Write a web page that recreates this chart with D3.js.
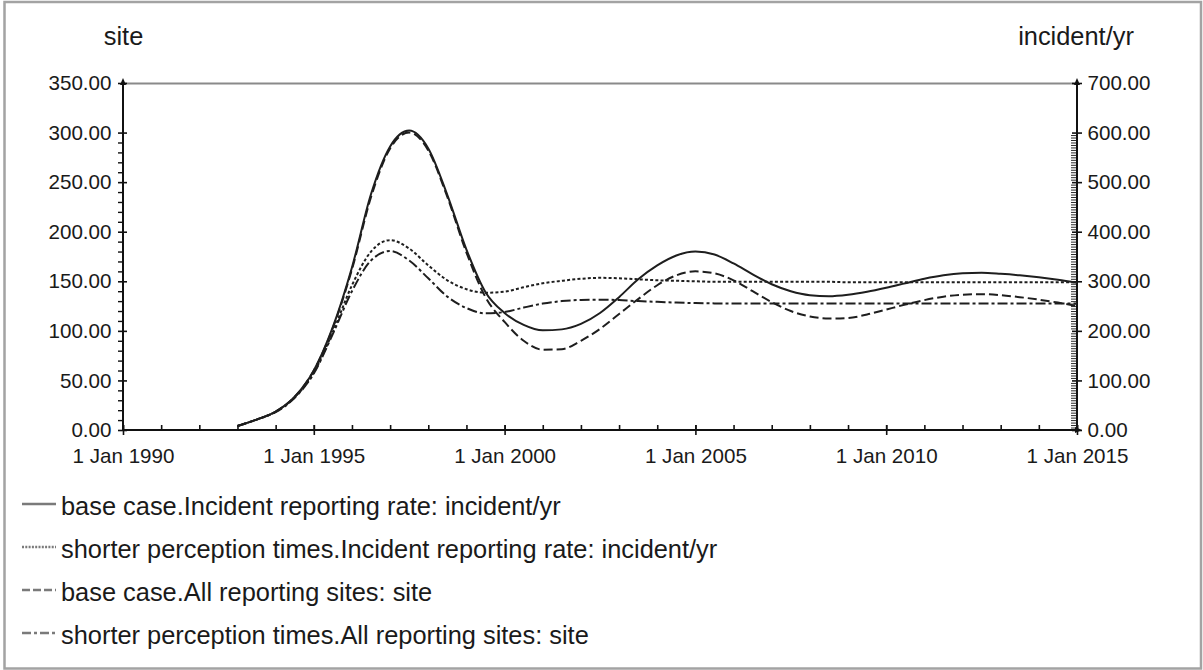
<!DOCTYPE html>
<html>
<head>
<meta charset="utf-8">
<script src="https://cdn.jsdelivr.net/npm/d3@7"></script>
<style>
  html, body { margin: 0; padding: 0; background: #fff; }
  svg { display: block; }
</style>
</head>
<body>
<svg id="chart" width="1203" height="670"></svg>
<script>
// Simulation output, sampled every half year from 1 Jan 1993
const years = [
  1993, 1993.5, 1994, 1994.5, 1995, 1995.5, 1996, 1996.5, 1997, 1997.5,
  1998, 1998.5, 1999, 1999.5, 2000, 2000.5, 2001, 2001.5, 2002, 2002.5,
  2003, 2003.5, 2004, 2004.5, 2005, 2005.5, 2006, 2006.5, 2007, 2007.5,
  2008, 2008.5, 2009, 2009.5, 2010, 2010.5, 2011, 2011.5, 2012, 2012.5,
  2013, 2013.5, 2014, 2014.5, 2015
];

// Incident reporting rate (incident/yr), right axis
const baseRate = [
  8, 21, 37, 67, 120, 208, 328, 476, 572, 604,
  568, 474, 364, 278, 236, 212, 201, 203, 214, 236,
  268, 304, 332, 352, 360, 354, 336, 314, 294, 280,
  272, 270, 273, 279, 287, 296, 305, 312, 316, 317,
  315, 312, 308, 303, 297
];
const shorterRate = [
  8, 21, 37, 66, 116, 198, 292, 360, 383, 366,
  332, 302, 284, 277, 279, 288, 296, 301, 305, 307,
  306, 304, 302, 301, 300, 299, 299, 299, 299, 299,
  299, 299, 298, 298, 298, 298, 298, 298, 298, 298,
  298, 298, 298, 298, 298
];

// All reporting sites (site), left axis
const baseSites = [
  4, 10.5, 18.5, 33.5, 60, 103, 162, 235, 284, 300,
  282, 235, 179, 134, 109, 90, 81, 81.5, 90, 102,
  117, 132, 146, 156, 160, 158, 151, 140, 129, 120,
  114.5, 112.5, 113, 116.5, 121.5, 126.5, 131, 134.5, 136.5, 137,
  136, 134, 131.5, 128.5, 125
];
const shorterSites = [
  4, 10.5, 18, 32.5, 57, 97, 140, 171, 180.5, 171,
  153, 134.5, 123, 117.7, 119, 123.5, 127.5, 130, 131.2, 131.5,
  131, 130, 129.3, 128.5, 128, 127.7, 127.5, 127.5, 127.5, 127.5,
  127.5, 127.5, 127.5, 127.5, 127.5, 127.5, 127.5, 127.5, 127.5, 127.5,
  127.5, 127.5, 127.5, 127.5, 127.5
];

const xTickYears = [1990, 1995, 2000, 2005, 2010, 2015];
const xTickLabels = ["1 Jan 1990", "1 Jan 1995", "1 Jan 2000", "1 Jan 2005", "1 Jan 2010", "1 Jan 2015"];
const siteTicks = [0, 50, 100, 150, 200, 250, 300, 350];
const rateTicks = [0, 100, 200, 300, 400, 500, 600, 700];

const legendLabels = [
  "base case.Incident reporting rate: incident/yr",
  "shorter perception times.Incident reporting rate: incident/yr",
  "base case.All reporting sites: site",
  "shorter perception times.All reporting sites: site"
];

const FONT = "'Liberation Sans', Arial, Helvetica, sans-serif";
const INK = "#1a1a1a";

const svg = d3.select("#chart");

// outer frame
svg.append("rect")
  .attr("x", 4.5).attr("y", 2)
  .attr("width", 1196.5).attr("height", 666.5)
  .attr("fill", "none")
  .attr("stroke", "#a3a3a3")
  .attr("stroke-width", 2.5);

const pLeft = 123, pRight = 1077, pTop = 83, pBottom = 430;

const x = d3.scaleLinear().domain([1990, 2015]).range([pLeft, pRight]);
const ySite = d3.scaleLinear().domain([0, 350]).range([pBottom, pTop]);
const yRate = d3.scaleLinear().domain([0, 700]).range([pBottom, pTop]);

// top frame line of the plot area
svg.append("line")
  .attr("x1", pLeft).attr("x2", pRight)
  .attr("y1", pTop + 0.5).attr("y2", pTop + 0.5)
  .attr("stroke", "#8a8a8a").attr("stroke-width", 2);

function styleAxis(g, width) {
  g.attr("font-family", FONT);
  g.select(".domain").remove();
  g.selectAll("line").attr("stroke", "#111").attr("stroke-width", width || 1.6);
  g.selectAll("text").attr("fill", INK);
}

const fmt = d3.format(".2f");

// ---- left axis (site)
const gLeftMinor = svg.append("g").attr("transform", `translate(${pLeft},0)`)
  .call(d3.axisLeft(ySite)
    .tickValues(d3.range(10, 300, 10).filter(v => v % 50 !== 0))
    .tickSize(5).tickFormat(""));
styleAxis(gLeftMinor, 1.4);

const gLeft = svg.append("g").attr("transform", `translate(${pLeft},0)`)
  .call(d3.axisLeft(ySite).tickValues(siteTicks).tickSize(5).tickPadding(6.5).tickFormat(fmt));
styleAxis(gLeft);
gLeft.attr("font-size", 20.6);
gLeft.selectAll(".tick line").attr("x1", 4);

// ---- right axis (incident/yr)
const gRightMinor = svg.append("g").attr("transform", `translate(${pRight},0)`)
  .call(d3.axisLeft(yRate)
    .tickValues(d3.range(5, 600, 5).filter(v => v % 100 !== 0))
    .tickSize(6).tickFormat(""));
styleAxis(gRightMinor, 0.9);

const gRight = svg.append("g").attr("transform", `translate(${pRight},0)`)
  .call(d3.axisRight(yRate).tickValues(rateTicks).tickSize(5).tickPadding(5.5).tickFormat(fmt));
styleAxis(gRight);
gRight.attr("font-size", 20.6);
gRight.selectAll(".tick line").attr("x1", -5);

// ---- bottom axis (time)
const gXMinor = svg.append("g").attr("transform", `translate(0,${pBottom})`)
  .call(d3.axisTop(x).tickValues(d3.range(1990, 2016, 1)).tickSize(5).tickFormat(""));
styleAxis(gXMinor);

const gX = svg.append("g").attr("transform", `translate(0,${pBottom})`)
  .call(d3.axisBottom(x).tickValues(xTickYears).tickSize(5).tickPadding(13.4)
    .tickFormat((d, i) => xTickLabels[i]));
styleAxis(gX);
gX.attr("font-size", 20.6);
gX.selectAll(".tick line").attr("y1", -5);

// axis lines with arrow heads
const axisPaths = svg.append("g").attr("stroke", "#111").attr("stroke-width", 2).attr("fill", "none");
axisPaths.append("line").attr("x1", pLeft).attr("x2", pLeft).attr("y1", pBottom + 1).attr("y2", pTop - 1);
axisPaths.append("line").attr("x1", pRight).attr("x2", pRight).attr("y1", pBottom + 1).attr("y2", pTop - 1);
axisPaths.append("line").attr("x1", pLeft - 1).attr("x2", pRight + 1).attr("y1", pBottom).attr("y2", pBottom);

const arrows = svg.append("g").attr("fill", "#111");
[pLeft, pRight].forEach(ax => {
  arrows.append("path").attr("d", `M${ax},${pTop - 5} L${ax - 3},${pTop + 2} L${ax + 3},${pTop + 2} Z`);
});
arrows.append("path").attr("d", `M${pRight + 5},${pBottom} L${pRight - 2},${pBottom - 3} L${pRight - 2},${pBottom + 3} Z`);

// unit captions
svg.append("text").attr("x", pLeft + 0.5).attr("y", 45)
  .attr("text-anchor", "middle").attr("font-family", FONT).attr("font-size", 25.4)
  .attr("fill", INK).text("site");
svg.append("text").attr("x", pRight - 1).attr("y", 45)
  .attr("text-anchor", "middle").attr("font-family", FONT).attr("font-size", 25.4)
  .attr("fill", INK).text("incident/yr");

// ---- series
const series = [
  { values: baseRate,     scale: yRate, dash: null },
  { values: shorterRate,  scale: yRate, dash: "3,2.2" },
  { values: baseSites,    scale: ySite, dash: "9,4" },
  { values: shorterSites, scale: ySite, dash: "10,3,3,3" }
];
const legendDash = [null, "2,1.3", "8,3", "9,3,3,3"];

const plot = svg.append("g");
series.slice().reverse().forEach(s => {
  const line = d3.line()
    .x((d, i) => x(years[i]))
    .y(d => s.scale(d))
    .curve(d3.curveMonotoneX);
  plot.append("path")
    .datum(s.values)
    .attr("d", line)
    .attr("fill", "none")
    .attr("stroke", "#1e1e1e")
    .attr("stroke-width", 2)
    .attr("stroke-dasharray", s.dash);
});

// ---- legend
const legend = svg.append("g");
legendLabels.forEach((label, i) => {
  const base = 514.5 + i * 43;
  legend.append("line")
    .attr("x1", 22).attr("x2", 56)
    .attr("y1", base - 10.5).attr("y2", base - 10.5)
    .attr("stroke", "#7a7a7a").attr("stroke-width", 2.6)
    .attr("stroke-dasharray", legendDash[i]);
  legend.append("text")
    .attr("x", 61).attr("y", base)
    .attr("font-family", FONT).attr("font-size", 25.4)
    .attr("fill", INK)
    .text(label);
});
</script>
</body>
</html>
